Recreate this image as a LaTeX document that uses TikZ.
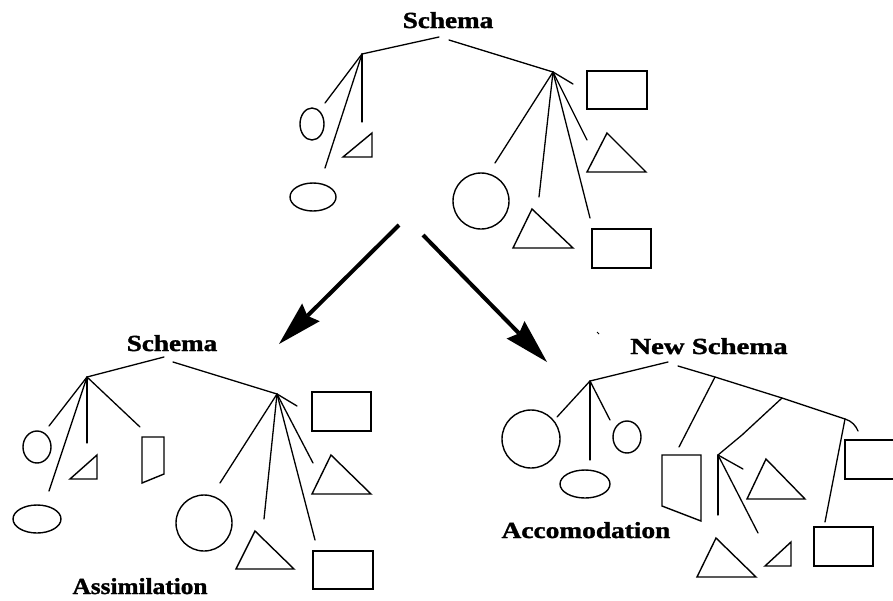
\documentclass[tikz,border=0pt]{standalone}
\usepackage{fontspec}
\setmainfont{Liberation Serif}
\newfontfamily\lblfont{Liberation Serif}[BoldFeatures={FakeBold=1.3}]
\usetikzlibrary{calc}
\tikzset{
  ln/.style={line width=1.3pt, line cap=round, line join=round},
  shp/.style={line width=1.4pt, line join=miter},
  arrline/.style={line width=4pt},
  lbl/.style={anchor=base, inner sep=0pt, font=\fontsize{23}{25}\selectfont\lblfont\bfseries},
}
\newcommand{\wide}[1]{\scalebox{1.18}[1]{#1}}
\newcommand{\bigarr}[2]{%
  \coordinate (bb) at ($(#2)!45pt!(#1)$);
  \coordinate (bn) at ($(#2)!40pt!(#1)$);
  \draw[arrline] (#1) -- (bn);
  \fill ($(bb)!12.5pt!90:(#2)$) -- (#2) -- ($(bb)!12.5pt!-90:(#2)$) -- (bn) -- cycle;
}
\begin{document}
\begin{tikzpicture}[x=1pt,y=-1pt]
\useasboundingbox (0,0) rectangle (893,600);
\clip (0,0) rectangle (893,600);

% ---------------- top tree ----------------
\node[lbl] (s1) at (448,28) {\wide{Schema}};
\coordinate (t1l) at (439,37);
\coordinate (t1r) at (449,40);
\coordinate (hA) at (362,54);
\coordinate (hB) at (553,72);
\coordinate (hBx) at (573,84);
\coordinate (a1) at (325,103);
\coordinate (a2) at (325,168);
\coordinate (a3) at (362,122);
\coordinate (b1) at (495,163);
\coordinate (b2) at (539,197);
\coordinate (b3) at (590,218);
\coordinate (b4) at (587,140);
\draw[ln] (t1l) -- (hA);
\draw[ln] (t1r) -- (hB) -- (hBx);
\draw[ln] (hA) -- (a1);
\draw[ln] (hA) -- (a2);
\draw[ln] (hA) -- (a3);
\draw[ln] (hB) -- (b1);
\draw[ln] (hB) -- (b2);
\draw[ln] (hB) -- (b3);
\draw[ln] (hB) -- (b4);
\draw[shp] (312,124) ellipse [x radius=12, y radius=16];
\draw[shp] (343,157) -- (372,157) -- (372,133) -- cycle;
\draw[shp] (313,197) ellipse [x radius=23, y radius=14];
\draw[shp] (587,71) rectangle (647,109);
\draw[shp] (587,172) -- (646,172) -- (607,133) -- cycle;
\draw[shp] (481,201) circle [radius=28];
\draw[shp] (513,248) -- (573,248) -- (532,209) -- cycle;
\draw[shp] (592,229) rectangle (651,268);

% ---------------- arrows ----------------
\coordinate (ar1s) at (399,225);
\coordinate (ar1e) at (279,344);
\coordinate (ar2s) at (423,235);
\coordinate (ar2e) at (547,362);
\bigarr{ar1s}{ar1e}
\bigarr{ar2s}{ar2e}

% ---------------- bottom-left tree (assimilation) ----------------
\node[lbl] (s2) at (172,351) {\wide{Schema}};
\coordinate (t2l) at (164,357);
\coordinate (t2r) at (173,362);
\coordinate (hC) at (87,377);
\coordinate (hD) at (277,394);
\coordinate (hDx) at (297,406);
\coordinate (c1) at (49,426);
\coordinate (c2) at (49,491);
\coordinate (c3) at (87,443);
\coordinate (c4) at (140,427);
\coordinate (d1) at (220,483);
\coordinate (d2) at (264,519);
\coordinate (d3) at (315,540);
\coordinate (d4) at (313,463);
\draw[ln] (t2l) -- (hC);
\draw[ln] (t2r) -- (hD) -- (hDx);
\draw[ln] (hC) -- (c1);
\draw[ln] (hC) -- (c2);
\draw[ln] (hC) -- (c3);
\draw[ln] (hC) -- (c4);
\draw[ln] (hD) -- (d1);
\draw[ln] (hD) -- (d2);
\draw[ln] (hD) -- (d3);
\draw[ln] (hD) -- (d4);
\draw[shp] (37,447) ellipse [x radius=14, y radius=16];
\draw[shp] (70,479) -- (97,479) -- (97,455) -- cycle;
\draw[shp] (142,437) -- (164,437) -- (164,474) -- (142,483) -- cycle;
\draw[shp] (37,519) ellipse [x radius=24, y radius=14];
\draw[shp] (312,392) rectangle (371,431);
\draw[shp] (312,494) -- (371,494) -- (331,455) -- cycle;
\draw[shp] (204,523) circle [radius=28];
\draw[shp] (236,569) -- (294,569) -- (255,531) -- cycle;
\draw[shp] (313,551) rectangle (373,589);
\node[lbl] (as) at (140,594) {\scalebox{1.1}[1]{Assimilation}};

% ---------------- bottom-right tree (accomodation) ----------------
\node[lbl] (s3) at (709,354) {\scalebox{1.25}[1]{New Schema}};
\coordinate (t3l) at (668,362);
\coordinate (t3r) at (678,366);
\coordinate (hE) at (590,381);
\coordinate (hF1) at (715,377);
\coordinate (hF2) at (782,398);
\coordinate (hF3) at (845,419);
\coordinate (hF3x) at (858,431);
\coordinate (e1) at (557,417);
\coordinate (e2) at (590,460);
\coordinate (e3) at (610,420);
\coordinate (f1) at (679,447);
\coordinate (f2k) at (742,435);
\coordinate (hG) at (718,455);
\coordinate (g1) at (718,515);
\coordinate (g2) at (743,469);
\coordinate (g3) at (758,533);
\coordinate (f3) at (825,522);
\draw[ln] (t3l) -- (hE);
\draw[ln] (t3r) -- (hF1) -- (hF2) -- (hF3);
\draw[ln] (hF3) .. controls (852,421) and (856,426) .. (hF3x);
\draw[ln] (hE) -- (e1);
\draw[ln] (hE) -- (e2);
\draw[ln] (hE) -- (e3);
\draw[ln] (hF1) -- (f1);
\draw[ln] (hF2) -- (f2k) -- (hG);
\draw[ln] (hG) -- (g1);
\draw[ln] (hG) -- (g2);
\draw[ln] (hG) -- (g3);
\draw[ln] (hF3) -- (f3);
\draw[shp] (531,439) circle [radius=29];
\draw[shp] (585,484) ellipse [x radius=25, y radius=14];
\draw[shp] (627,437) ellipse [x radius=14, y radius=16];
\draw[shp] (662,455) -- (701,455) -- (701,521) -- (662,506) -- cycle;
\draw[shp] (747,499) -- (805,499) -- (766,459) -- cycle;
\draw[shp] (845,440) rectangle (900,479);
\draw[shp] (697,577) -- (756,577) -- (716,538) -- cycle;
\draw[shp] (765,566) -- (791,566) -- (791,542) -- cycle;
\draw[shp] (814,527) rectangle (873,566);
\node[lbl] (ac) at (586,538) {\scalebox{1.19}[1]{Accomodation}};
\coordinate (sp1) at (597,332);
\coordinate (sp2) at (599,334);
\draw[line width=1pt] (sp1) -- (sp2);
\end{tikzpicture}
\end{document}
